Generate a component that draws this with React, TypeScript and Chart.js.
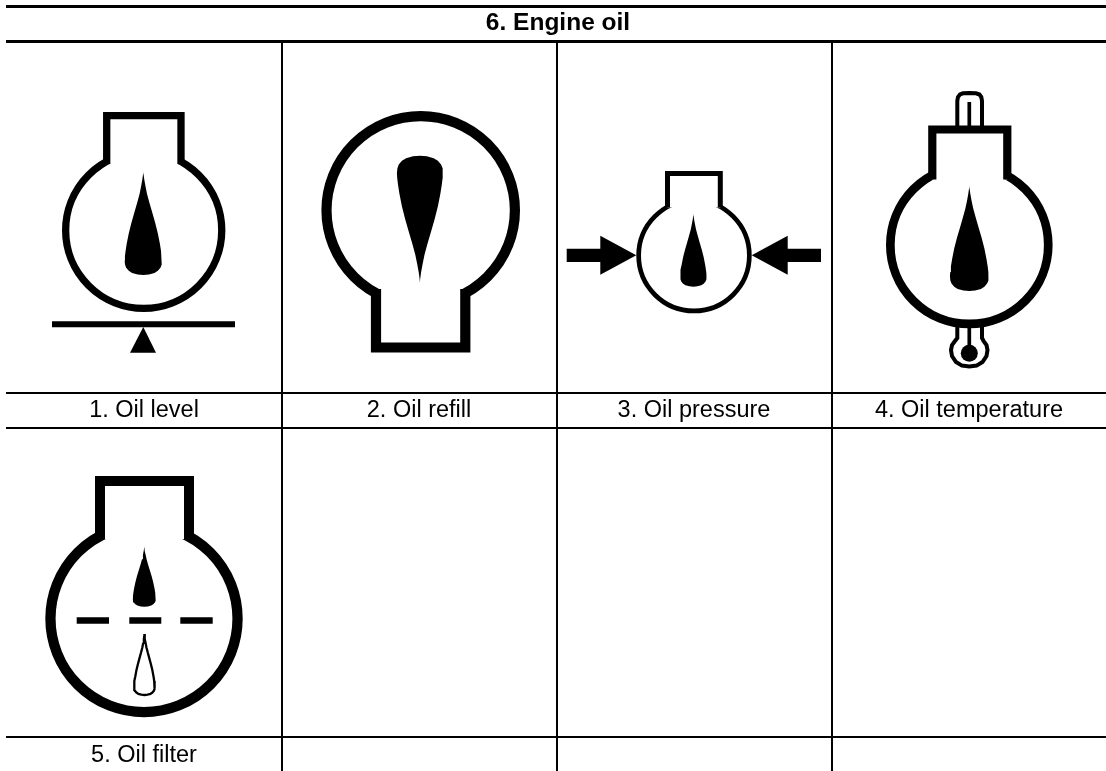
import React, { useEffect, useRef } from "react";
import { Chart, registerables } from "chart.js";

Chart.register(...registerables);

type Pt = [number, number];

// Table
const TABLE_TITLE = "6. Engine oil";
const CATEGORIES = ["1. Oil level", "2. Oil refill", "3. Oil pressure", "4. Oil temperature", "5. Oil filter"];
const LABEL_X = [144, 419, 694, 969, 144];
const LABEL_Y = [417, 417, 417, 417, 762];
const TITLE_POS: Pt = [558, 30];
const H_RULES: [number, number][] = [[6.5, 3], [41.5, 3], [393, 2], [428, 2], [737, 2]];
const V_RULES = [282, 557, 832];

// Drop silhouette: [distance from tip (0..1), half width (0..1)]
const DROP_PROFILE: Pt[] = [
  [0, 0], [0.03, 0.012], [0.08, 0.05], [0.15, 0.12], [0.22, 0.2], [0.3, 0.32], [0.4, 0.48], [0.5, 0.64],
  [0.6, 0.78], [0.7, 0.89], [0.77, 0.95], [0.82, 0.985], [0.86, 1], [0.9, 0.98], [0.93, 0.92], [0.96, 0.78], [0.98, 0.6], [0.995, 0.3], [1, 0],
];

// Flask bodies: [cx, cy, radius, stroke]
const BODIES: [number, number, number, number][] = [
  [143.7, 230.3, 78.05, 7.3],
  [420.7, 210.3, 94.2, 10.2],
  [694, 255.6, 55.35, 4.7],
  [969.3, 245, 78.95, 8.7],
  [144, 618.6, 93.55, 10.3],
];
// Flask necks: outline + stroke
const NECKS: { pts: Pt[]; w: number }[] = [
  { pts: [[106.7, 164], [106.7, 115.7], [181, 115.7], [181, 164]], w: 7.3 },
  { pts: [[376, 289], [376, 347.5], [465.3, 347.5], [465.3, 289]], w: 10.2 },
  { pts: [[667.5, 207.5], [667.5, 173.5], [720.3, 173.5], [720.3, 207.5]], w: 5 },
  { pts: [[932.3, 179.5], [932.3, 129.5], [1007.3, 129.5], [1007.3, 179.5]], w: 8.2 },
  { pts: [[100, 539], [100, 481], [189, 481], [189, 539]], w: 10 },
];
// Drops: [tip x, tip y, base y, full width]
const SOLID_DROPS: [number, number, number, number][] = [
  [143.3, 171, 275, 37.3],
  [419.9, 282.7, 155.7, 46],
  [693.4, 213.3, 286.7, 26.4],
  [969.3, 185, 291, 38.7],
  [144.3, 546, 606.7, 23],
];
const HOLLOW_DROP: [number, number, number, number] = [144.4, 634, 695, 20.6];

// Oil level balance
const BALANCE_BAR: Pt[] = [[52, 324.3], [235, 324.3]];
const BALANCE_TRIANGLE: Pt[] = [[143.3, 327], [156, 352.7], [130, 352.7]];

// Oil pressure arrows
const ARROW_LEFT: Pt[] = [[566.7, 248.7], [600.3, 248.7], [600.3, 235.7], [636.3, 255.3], [600.3, 274.7], [600.3, 262], [566.7, 262]];
const ARROW_RIGHT: Pt[] = [[821, 248.7], [787.7, 248.7], [787.7, 235.7], [751.7, 255.3], [787.7, 274.7], [787.7, 262], [821, 262]];

// Oil temperature thermometer
const THERMO_TOP: Pt[] = [
  [957.3, 126], [957.3, 101], [958, 97], [960, 94.5], [963, 93.3], [969.6, 93], [976, 93.3], [979.5, 94.5], [981.3, 97], [982, 101], [982, 126],
];
const THERMO_TOP_COLUMN: Pt[] = [[969.3, 126], [969.3, 102]];
const THERMO_BOTTOM: Pt[] = [
  [957.3, 326], [957.3, 338], [955, 341], [952, 345], [951, 350], [952, 356], [956, 362], [962, 365.6], [969.3, 366.4],
  [976.6, 365.6], [982.5, 362], [986.5, 356], [987.5, 350], [986.5, 345], [983.5, 341], [982, 338], [982, 326],
];
const THERMO_BOTTOM_COLUMN: Pt[] = [[969.3, 326], [969.3, 350]];
const THERMO_BALL: [number, number, number] = [969.3, 353.3, 8.5];

// Oil filter dashes
const FILTER_DASHES: Pt[][] = [
  [[76.7, 620.5], [109, 620.5]],
  [[129.3, 620.5], [161.3, 620.5]],
  [[180.3, 620.5], [212.7, 620.5]],
];

const xy = (p: Pt[]) => p.map(([x, y]) => ({ x, y }));

function dropOutline([tx, ty, by, w]: [number, number, number, number]): Pt[] {
  const h = by - ty;
  const right = DROP_PROFILE.map(([t, s]) => [tx + (s * w) / 2, ty + t * h] as Pt);
  const left = DROP_PROFILE.slice(0, -1).reverse().map(([t, s]) => [tx - (s * w) / 2, ty + t * h] as Pt);
  return [...right, ...left];
}

function line(pts: Pt[], width: number) {
  return {
    data: xy(pts), showLine: true, fill: false, borderColor: "#000", borderWidth: width,
    pointRadius: 0, borderCapStyle: "butt", borderJoinStyle: "miter", clip: false,
  };
}
function solid(pts: Pt[]) {
  return {
    data: xy(pts), showLine: true, fill: "shape", backgroundColor: "#000", borderColor: "#000", borderWidth: 0,
    pointRadius: 0, clip: false,
  };
}
function whiteShape(pts: Pt[], width: number) {
  return { ...line(pts, width), fill: "shape", backgroundColor: "#fff" };
}
function disc(cx: number, cy: number, r: number, stroke: number, bg: string) {
  return {
    data: [{ x: cx, y: cy }], showLine: false, pointStyle: "circle", pointRadius: r, pointBorderWidth: stroke,
    pointBackgroundColor: bg, pointBorderColor: "#000", clip: false,
  };
}

const textPlugin = {
  id: "tableText",
  afterDatasetsDraw(chart: any) {
    const { ctx, scales } = chart;
    ctx.save();
    ctx.fillStyle = "#000";
    ctx.textAlign = "center";
    ctx.textBaseline = "alphabetic";
    ctx.font = "bold 24.5px 'Liberation Sans'";
    ctx.fillText(TABLE_TITLE, scales.x.getPixelForValue(TITLE_POS[0]), scales.y.getPixelForValue(TITLE_POS[1]));
    ctx.font = "23.5px 'Liberation Sans'";
    CATEGORIES.forEach((c, i) => {
      ctx.fillText(c, scales.x.getPixelForValue(LABEL_X[i]), scales.y.getPixelForValue(LABEL_Y[i]));
    });
    ctx.restore();
  },
};

export default function App() {
  const ref = useRef<HTMLCanvasElement>(null);
  useEffect(() => {
    if (!ref.current) return;
    const datasets: any[] = [
      ...H_RULES.map(([y, w]) => line([[6, y], [1106, y]], w)),
      ...V_RULES.map((x) => line([[x, 41], [x, 771]], 2)),
      line(THERMO_TOP, 4),
      line(THERMO_TOP_COLUMN, 3.7),
      line(THERMO_BOTTOM, 4),
      line(THERMO_BOTTOM_COLUMN, 3.7),
      disc(THERMO_BALL[0], THERMO_BALL[1], THERMO_BALL[2], 0, "#000"),
      ...BODIES.map(([x, y, r, w]) => disc(x, y, r, w, "#fff")),
      ...NECKS.map((n) => whiteShape(n.pts, n.w)),
      ...SOLID_DROPS.map((d) => solid(dropOutline(d))),
      { ...whiteShape(dropOutline(HOLLOW_DROP), 2.3), borderJoinStyle: "bevel" },
      line(BALANCE_BAR, 6),
      solid(BALANCE_TRIANGLE),
      solid(ARROW_LEFT),
      solid(ARROW_RIGHT),
      ...FILTER_DASHES.map((d) => line(d, 6.5)),
    ].map((d, i) => ({ ...d, order: -i }));
    const chart = new Chart(ref.current, {
      type: "scatter",
      data: { datasets },
      options: {
        animation: false,
        responsive: false,
        events: [],
        layout: { padding: 0, autoPadding: false },
        plugins: { legend: { display: false }, tooltip: { enabled: false }, title: { display: false } },
        scales: {
          x: { type: "linear", min: 0, max: 1106, display: false },
          y: { type: "linear", min: 0, max: 771, reverse: true, display: false },
        },
      },
      plugins: [textPlugin],
    } as any);
    return () => chart.destroy();
  }, []);
  return (
    <div style={{ position: "absolute", left: 0, top: 0, width: 1106, height: 771, background: "#fff" }}>
      <canvas ref={ref} width={1106} height={771} style={{ display: "block" }} />
    </div>
  );
}
